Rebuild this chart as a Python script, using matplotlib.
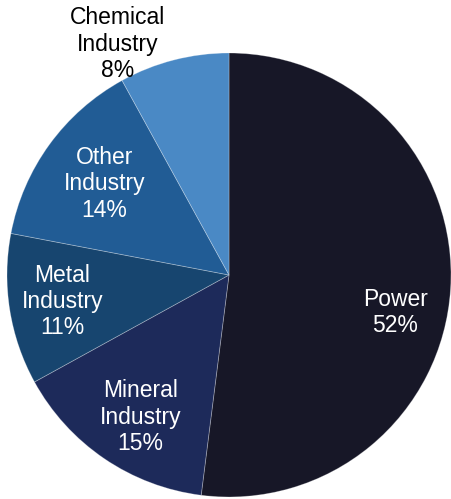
import numpy as np
import matplotlib.pyplot as plt

plt.rcParams['font.family'] = ['Liberation Sans', 'DejaVu Sans']

# data
labels = ['Power', 'Mineral\nIndustry', 'Metal\nIndustry', 'Other\nIndustry', 'Chemical\nIndustry']
shares = [52, 15, 11, 14, 8]
colors = ['#171727', '#1d2a5a', '#17456f', '#215c95', '#4a89c5']

# label positions (radius units, relative to pie centre)
label_pos = [(0.75, -0.17), (-0.40, -0.64), (-0.75, -0.12), (-0.56, 0.41), (-0.50, 1.04)]
label_col = ['white', 'white', 'white', 'white', 'black']

fig = plt.figure(figsize=(4.52, 4.99), dpi=100)
ax = fig.add_axes([0, 0, 1, 1])
ax.set_xlim(0, 452)
ax.set_ylim(0, 499)
ax.set_aspect('equal')
ax.axis('off')

cx, cy, r = 229, 224, 222
ax.pie(shares, colors=colors, startangle=90, counterclock=False,
       center=(cx, cy), radius=r,
       wedgeprops=dict(edgecolor=(1, 1, 1, 0.3), linewidth=0.6))

for lab, s, (px, py), c in zip(labels, shares, label_pos, label_col):
    ax.text(cx + px * r, cy + py * r, f'{lab}\n{s}%', color=c,
            ha='center', va='center', fontsize=16.5, linespacing=1.18)

ax.set_xlim(0, 452)
ax.set_ylim(0, 499)
fig.savefig('out.png', dpi=100)
